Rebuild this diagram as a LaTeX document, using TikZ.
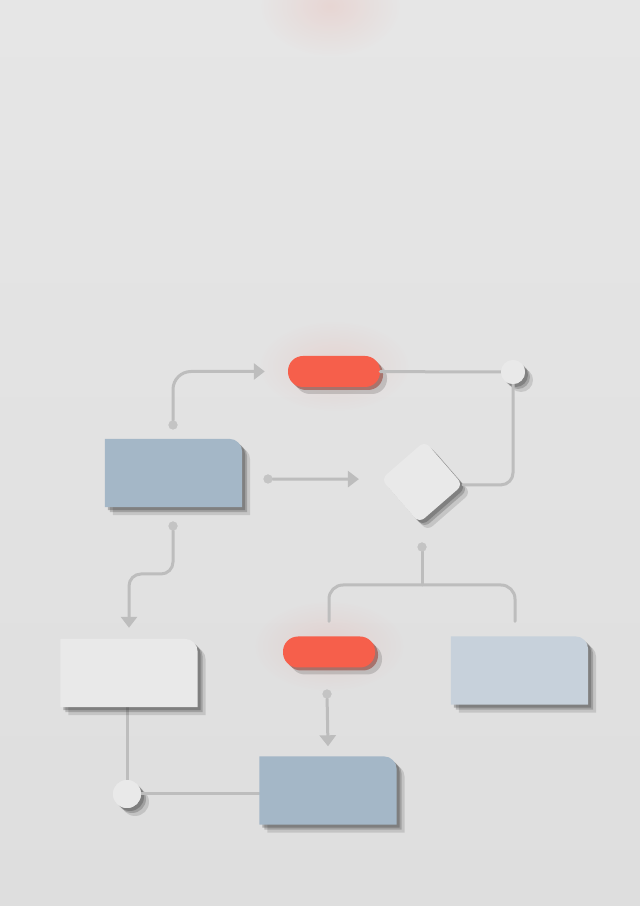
\documentclass[tikz,border=0pt]{standalone}
\usetikzlibrary{arrows.meta, shapes.geometric, shadows, fadings}

\definecolor{paper}{HTML}{E6E6E6}
\definecolor{paperlow}{HTML}{DEDEDE}
\definecolor{slate}{HTML}{A4B7C7}
\definecolor{mist}{HTML}{C7D1DB}
\definecolor{stone}{HTML}{E9E9E9}
\definecolor{coral}{HTML}{F65F4B}
\definecolor{wire}{HTML}{BDBDBD}
\definecolor{knob}{HTML}{C4C4C4}

\tikzfading[name=glowfade, inner color=transparent!88, outer color=transparent!100]

\tikzset{
    wire/.style={draw=wire, line width=3pt, line cap=round},
    tip/.style={-{Triangle[length=11pt, width=16pt]}},
    hull/.style={rectangle, draw=none, inner sep=0pt, minimum width=137pt, minimum height=68pt},
    softshadow/.style={drop shadow={shadow xshift=8pt, shadow yshift=-8pt, opacity=.12, fill=black},
                       drop shadow={shadow xshift=5pt, shadow yshift=-5pt, opacity=.18, fill=black},
                       drop shadow={shadow xshift=3pt, shadow yshift=-3pt, opacity=.3, fill=black!80}},
    pill/.style={rectangle, rounded corners=15pt, fill=coral, minimum width=92pt, minimum height=31pt,
                 drop shadow={shadow xshift=7pt, shadow yshift=-7pt, opacity=.15, fill=black},
                 drop shadow={shadow xshift=3pt, shadow yshift=-3pt, opacity=.55, fill=coral!60!black}},
    knobdot/.style={circle, fill=knob, inner sep=0pt, minimum size=9pt},
    puck/.style={circle, fill=stone, inner sep=0pt, softshadow},
    glow/.style={fill=coral, path fading=glowfade}
}

% card with one rounded corner, drawn on a hull node
\newcommand{\card}[2]{%
    \fill[#2, softshadow] (#1.south west) -- (#1.north west) -- ([xshift=-13pt]#1.north east)
        arc[start angle=90, end angle=0, radius=13pt] -- (#1.south east) -- cycle;}

\begin{document}
\begin{tikzpicture}[x=1pt, y=1pt]

    \shade[top color=paper, bottom color=paperlow] (0, 0) rectangle (640, 906);
    \useasboundingbox (0, 0) rectangle (640, 906);

    % glows
    \fill[glow] (330, 900) ellipse (70 and 50);
    \fill[glow] (334, 540) ellipse (75 and 45);
    \fill[glow] (329, 260) ellipse (75 and 45);

    % blocks
    \node[hull] (A) at (173.5, 433) {};
    \node[hull] (L) at (129, 233) {};
    \node[hull] (B) at (328, 115.5) {};
    \node[hull] (R) at (519.5, 235.5) {};

    \node[pill] (P1) at (334, 534.5) {};
    \node[pill] (P2) at (329, 254) {};

    \node[diamond, fill=stone, rounded corners=7pt, minimum width=82pt, minimum height=82pt,
          inner sep=0pt, softshadow, rotate=-4] (D) at (422, 424) {};

    \node[puck, minimum size=24pt] (C1) at (513, 534) {};
    \node[puck, minimum size=28pt] (C2) at (127, 112) {};

    \node[knobdot] (dAt) at (173, 481) {};
    \node[knobdot] (dAr) at (268, 427) {};
    \node[knobdot] (dAb) at (173, 380) {};
    \node[knobdot] (dD) at (422, 359) {};
    \node[knobdot] (dP) at (327, 212) {};

    \coordinate (brace) at (422, 321);
    \coordinate (legL) at ([yshift=15pt]P2.north);
    \coordinate (legR) at ([xshift=-4.5pt, yshift=15pt]R.north);

    % connectors
    \draw[wire, tip, rounded corners=18pt] (dAt) |- ([xshift=-23pt]P1.west);
    \draw[wire, tip] (dAr) -- ([xshift=-22pt]D.west);
    \draw[wire] (P1) -- (C1);
    \draw[wire, rounded corners=12pt] (C1) |- (D.east);
    \draw[wire, tip, rounded corners=12pt] (dAb) -- ++(0, -48) -| ([yshift=11pt]L.north);
    \draw[wire] (L.south -| C2) -- (C2);
    \draw[wire] (C2) -- (C2 -| B.west);
    \draw[wire] (dD) -- (brace);
    \draw[wire, rounded corners=14pt] (legL) |- (brace) -| (legR);
    \draw[wire, tip] (dP) -- ([yshift=10pt]B.north);

    \card{A}{slate}
    \card{L}{stone}
    \card{B}{slate}
    \card{R}{mist}

    % redraw knobs over the wires
    \foreach \k in {dAt, dAr, dAb, dD, dP}
        \node[knobdot] at (\k) {};
    \node[circle, fill=stone, inner sep=0pt, minimum size=24pt] at (C1) {};
    \node[circle, fill=stone, inner sep=0pt, minimum size=28pt] at (C2) {};

\end{tikzpicture}
\end{document}
